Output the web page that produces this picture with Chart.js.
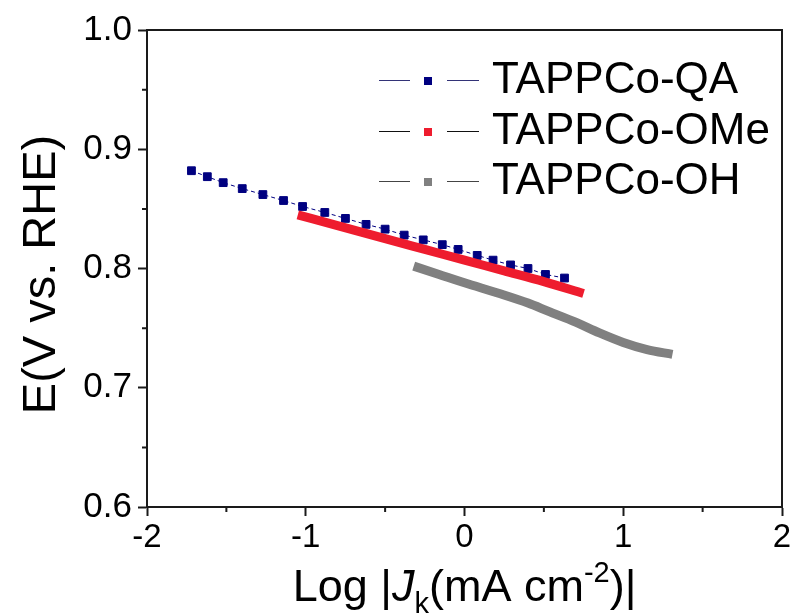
<!DOCTYPE html>
<html>
<head>
<meta charset="utf-8">
<script src="https://cdn.jsdelivr.net/npm/chart.js@4"></script>
<style>
  html, body { margin: 0; padding: 0; background: #fff; }
  #wrap { width: 798px; height: 614px; }
</style>
</head>
<body>
<div id="wrap"><canvas id="tafel" width="798" height="614"></canvas></div>
<script>
// ── Data ──────────────────────────────────────────────────────
const seriesNames = ['TAPPCo-QA', 'TAPPCo-OMe', 'TAPPCo-OH'];

const qaLogJ = [-1.72, -1.62, -1.52, -1.40, -1.27, -1.14, -1.02, -0.88, -0.75, -0.62, -0.50,
                -0.38, -0.26, -0.14, -0.04, 0.08, 0.18, 0.29, 0.40, 0.51, 0.63];
const qaE    = [0.882, 0.877, 0.872, 0.867, 0.862, 0.857, 0.852, 0.847, 0.842, 0.837, 0.833,
                0.828, 0.824, 0.820, 0.816, 0.811, 0.807, 0.803, 0.800, 0.795, 0.792];

const omeLogJ = [-1.05, -0.80, -0.50, -0.25, 0.00, 0.25, 0.50, 0.75];
const omeE    = [0.845, 0.836, 0.825, 0.816, 0.807, 0.798, 0.789, 0.779];

const ohLogJ = [-0.32, -0.16, 0.00, 0.22, 0.40, 0.53, 0.70, 0.85, 1.00, 1.15, 1.31];
const ohE    = [0.802, 0.795, 0.788, 0.779, 0.771, 0.764, 0.755, 0.746, 0.738, 0.732, 0.728];

const xTicks = [-2, -1, 0, 1, 2];
const yTicks = [0.6, 0.7, 0.8, 0.9, 1.0];
const xMinor = [-1.5, -0.5, 0.5, 1.5];
const yMinor = [0.65, 0.75, 0.85, 0.95];

// ── Styles ────────────────────────────────────────────────────
const NAVY = '#000080';
const RED  = '#ee1c2e';
const GRAY = '#808080';
const AXIS = '#1a1a1a';
const FONT = '"Liberation Sans", Arial, sans-serif';

const toPts = (xs, ys) => xs.map((x, i) => ({ x, y: ys[i] }));

// ── Frame, minor ticks, titles, legend ────────────────────────
const decorPlugin = {
  id: 'decor',
  afterDraw(chart) {
    const { ctx, chartArea: a, scales: { x, y } } = chart;
    ctx.save();
    ctx.strokeStyle = AXIS;
    ctx.lineWidth = 2;

    // top + right frame
    ctx.beginPath();
    ctx.moveTo(a.left, a.top);
    ctx.lineTo(a.right, a.top);
    ctx.lineTo(a.right, a.bottom);
    ctx.stroke();

    // minor ticks
    ctx.beginPath();
    xMinor.forEach(v => {
      const px = x.getPixelForValue(v);
      ctx.moveTo(px, a.bottom);
      ctx.lineTo(px, a.bottom + 5);
    });
    yMinor.forEach(v => {
      const py = y.getPixelForValue(v);
      ctx.moveTo(a.left, py);
      ctx.lineTo(a.left - 5, py);
    });
    ctx.stroke();

    // y title
    ctx.fillStyle = '#000';
    ctx.save();
    ctx.translate(42, (a.top + a.bottom) / 2 + 6);
    ctx.rotate(-Math.PI / 2);
    ctx.font = `47px ${FONT}`;
    ctx.textAlign = 'center';
    ctx.textBaseline = 'middle';
    ctx.fillText('E(V vs. RHE)', 0, 0);
    ctx.restore();

    // x title: Log |J_k(mA cm^-2)|
    const parts = [
      { t: 'Log |',   f: `45px ${FONT}`,        dy: 0 },
      { t: 'J',       f: `italic 45px ${FONT}`, dy: 0 },
      { t: 'k',       f: `29px ${FONT}`,        dy: 12 },
      { t: '(mA cm',  f: `45px ${FONT}`,        dy: 0 },
      { t: '-2',      f: `29px ${FONT}`,        dy: -19 },
      { t: ')|',      f: `45px ${FONT}`,        dy: 0 },
    ];
    let total = 0;
    parts.forEach(p => { ctx.font = p.f; p.w = ctx.measureText(p.t).width; total += p.w; });
    let cx = (a.left + a.right) / 2 - total / 2;
    const base = 601;
    ctx.textAlign = 'left';
    ctx.textBaseline = 'alphabetic';
    parts.forEach(p => {
      ctx.font = p.f;
      ctx.fillText(p.t, cx, base + p.dy);
      cx += p.w;
    });

    // legend
    const rows = [
      { name: seriesNames[0], mark: NAVY, line: '#333377', y: 80 },
      { name: seriesNames[1], mark: RED,  line: '#111111', y: 131 },
      { name: seriesNames[2], mark: GRAY, line: '#444444', y: 181 },
    ];
    rows.forEach(r => {
      ctx.strokeStyle = r.line;
      ctx.lineWidth = 1;
      ctx.beginPath();
      ctx.moveTo(379, r.y + 0.5); ctx.lineTo(410, r.y + 0.5);
      ctx.moveTo(447, r.y + 0.5); ctx.lineTo(479, r.y + 0.5);
      ctx.stroke();
      ctx.fillStyle = r.mark;
      ctx.fillRect(424, r.y - 3, 8, 8);
      ctx.fillStyle = '#000';
      ctx.font = `44px ${FONT}`;
      ctx.textBaseline = 'middle';
      ctx.fillText(r.name, 492, r.y + 1);
    });
    ctx.restore();
  },
};

// ── Chart ─────────────────────────────────────────────────────
new Chart(document.getElementById('tafel'), {
  type: 'scatter',
  data: {
    datasets: [
      {
        label: seriesNames[2],
        data: toPts(ohLogJ, ohE),
        showLine: true,
        borderColor: GRAY,
        borderWidth: 9,
        borderCapStyle: 'butt',
        cubicInterpolationMode: 'monotone',
        pointRadius: 0,
      },
      {
        label: seriesNames[1],
        data: toPts(omeLogJ, omeE),
        showLine: true,
        borderColor: RED,
        borderWidth: 9,
        borderCapStyle: 'butt',
        cubicInterpolationMode: 'monotone',
        pointRadius: 0,
      },
      {
        label: seriesNames[0],
        data: toPts(qaLogJ, qaE),
        showLine: true,
        borderColor: NAVY,
        borderWidth: 1,
        borderDash: [4, 3],
        pointStyle: 'rect',
        pointRadius: 5.5,
        pointBackgroundColor: NAVY,
        pointBorderColor: NAVY,
        pointBorderWidth: 1,
      },
    ],
  },
  options: {
    responsive: false,
    animation: false,
    events: [],
    layout: { padding: { top: 30, right: 16, left: 0, bottom: 0 } },
    plugins: { legend: { display: false }, tooltip: { enabled: false } },
    scales: {
      x: {
        type: 'linear',
        min: -2, max: 2,
        afterFit: (s) => { s.height = 107; },
        afterBuildTicks: (s) => { s.ticks = xTicks.map(v => ({ value: v })); },
        ticks: {
          color: '#000',
          font: { family: FONT, size: 33 },
          padding: 2,
          maxRotation: 0,
          callback: (v) => String(v),
        },
        grid: { drawOnChartArea: false, drawTicks: true, tickLength: 9, tickWidth: 2, tickColor: AXIS },
        border: { display: true, color: AXIS, width: 2 },
      },
      y: {
        type: 'linear',
        min: 0.6, max: 1.0,
        afterFit: (s) => { s.width = 147; },
        afterBuildTicks: (s) => { s.ticks = yTicks.map(v => ({ value: v })); },
        ticks: {
          color: '#000',
          font: { family: FONT, size: 35 },
          padding: 6,
          callback: (v) => Number(v).toFixed(1),
        },
        grid: { drawOnChartArea: false, drawTicks: true, tickLength: 9, tickWidth: 2, tickColor: AXIS },
        border: { display: true, color: AXIS, width: 2 },
      },
    },
  },
  plugins: [decorPlugin],
});
</script>
</body>
</html>
